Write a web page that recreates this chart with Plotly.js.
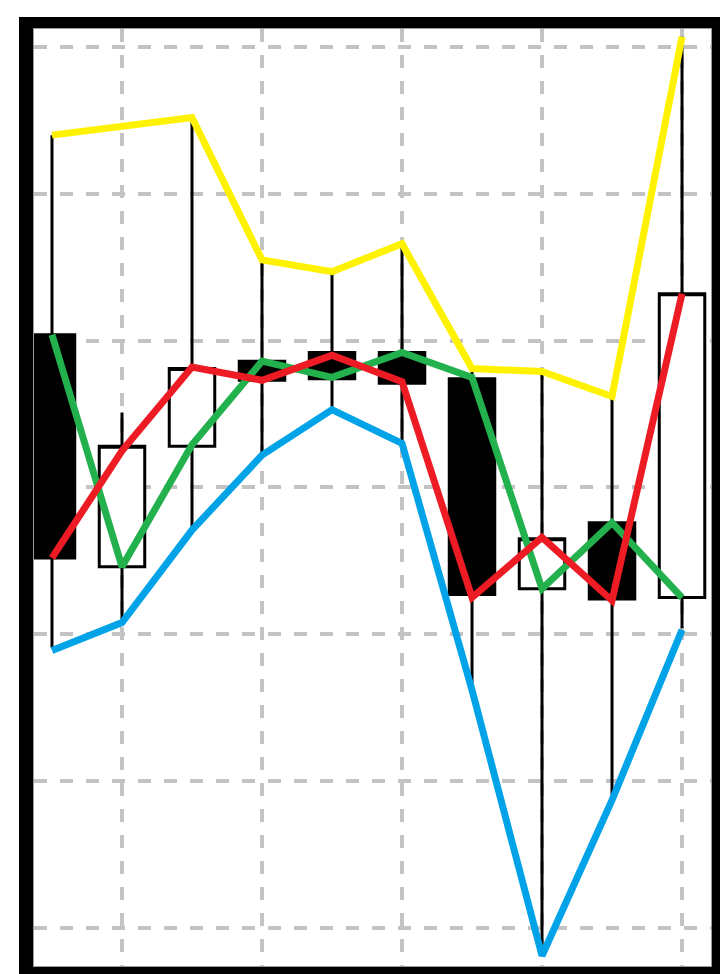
<!DOCTYPE html>
<html>
<head>
<meta charset="utf-8">
<script src="https://cdn.plot.ly/plotly-3.0.1.min.js"></script>
<style>
  html, body { margin: 0; padding: 0; background: #ffffff; width: 720px; height: 974px; overflow: hidden; }
  #chart { position: absolute; left: 19px; top: 17px; width: 701px; height: 957px; }
</style>
</head>
<body>
<div id="chart"></div>
<script>
// Periods (x positions of the candles)
const periods = [0, 1, 2, 3, 4, 5, 6, 7, 8, 9];

// Candlestick values
const openVals  = [40.4, 24.6, 32.8, 38.6, 39.2, 39.2, 37.4, 23.1, 27.6, 22.5];
const highVals  = [54.0, 35.1, 55.2, 45.4, 44.7, 46.6, 38.1, 37.9, 36.2, 60.7];
const lowVals   = [19.1, 20.8, 27.1, 32.3, 35.4, 33.1, 16.2, -1.7, 8.7, 20.4];
const closeVals = [25.2, 32.8, 38.1, 37.3, 37.4, 37.1, 22.7, 26.5, 22.4, 43.2];

// Overlay line series
const yellowLine = [54.0, 54.6, 55.2, 45.5, 44.7, 46.6, 38.1, 37.9, 36.2, 60.7];
const blueLine   = [18.9, 20.8, 27.1, 32.2, 35.3, 33.0, 16.2, -1.9, 8.7, 20.3];
const greenLine  = [40.4, 24.6, 32.9, 38.6, 37.5, 39.2, 37.5, 23.1, 27.6, 22.5];
const redLine    = [25.2, 32.5, 38.2, 37.3, 39.0, 37.2, 22.5, 26.6, 22.3, 43.2];

// Grid positions
const xGrid = [1, 3, 5, 7, 9];
const yGrid = [0, 10, 20, 30, 40, 50, 60];

const candle = {
  type: 'candlestick',
  x: periods,
  open: openVals,
  high: highVals,
  low: lowVals,
  close: closeVals,
  whiskerwidth: 0,
  increasing: { line: { color: '#000000', width: 3 }, fillcolor: '#ffffff' },
  decreasing: { line: { color: '#000000', width: 3 }, fillcolor: '#000000' },
  showlegend: false,
  hoverinfo: 'skip'
};

function lineTrace(vals, color) {
  return {
    type: 'scatter',
    mode: 'lines',
    x: periods,
    y: vals,
    line: { color: color, width: 7 },
    showlegend: false,
    hoverinfo: 'skip'
  };
}

const data = [
  candle,
  lineTrace(blueLine, '#00a2e8'),
  lineTrace(yellowLine, '#fff200'),
  lineTrace(greenLine, '#22b14c'),
  lineTrace(redLine, '#ed1c24')
];

const layout = {
  width: 701,
  height: 957,
  margin: { l: 15, r: 9, t: 12, b: 8, pad: 0 },
  paper_bgcolor: '#000000',
  plot_bgcolor: '#ffffff',
  showlegend: false,
  boxgap: 0.35,
  boxgroupgap: 0,
  xaxis: {
    range: [-0.257, 9.414],
    tickmode: 'array',
    tickvals: xGrid,
    showticklabels: false,
    ticks: '',
    showgrid: true,
    gridcolor: '#c3c3c3',
    gridwidth: 4,
    griddash: '13px,13px',
    zeroline: false,
    showline: true,
    mirror: true,
    linecolor: '#9a9a9a',
    linewidth: 1,
    rangeslider: { visible: false },
    fixedrange: true
  },
  yaxis: {
    range: [-2.60, 61.23],
    tickmode: 'array',
    tickvals: yGrid,
    showticklabels: false,
    ticks: '',
    showgrid: true,
    gridcolor: '#c3c3c3',
    gridwidth: 4,
    griddash: '13px,13px',
    zeroline: false,
    showline: true,
    mirror: true,
    linecolor: '#9a9a9a',
    linewidth: 1,
    fixedrange: true
  }
};

Plotly.newPlot('chart', data, layout, { displayModeBar: false, staticPlot: true });
</script>
</body>
</html>
